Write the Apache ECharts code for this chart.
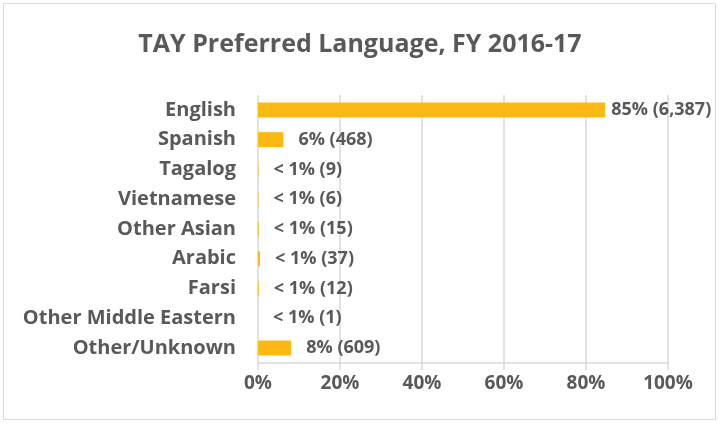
<!DOCTYPE html>
<html>
<head>
<meta charset="utf-8">
<script src="https://cdn.jsdelivr.net/npm/echarts@6/dist/echarts.min.js"></script>
<style>
  html, body { margin: 0; padding: 0; background: #fff; }
  #chart { width: 720px; height: 424px; }
</style>
</head>
<body>
<div id="chart"></div>
<script>
// categories, top to bottom
const languages = ['English', 'Spanish', 'Tagalog', 'Vietnamese', 'Other Asian', 'Arabic', 'Farsi', 'Other Middle Eastern', 'Other/Unknown'];
// share of TAY (percent) and head counts
const shares = [84.7, 6.2, 0.1, 0.1, 0.2, 0.5, 0.2, 0.01, 8.1];
const counts = [6387, 468, 9, 6, 15, 37, 12, 1, 609];
const shareLabels = ['85%', '6%', '< 1%', '< 1%', '< 1%', '< 1%', '< 1%', '< 1%', '8%'];
const xTicks = [0, 20, 40, 60, 80, 100];

const textColor = '#595959';
const fontFamily = '"Open Sans", Lato, sans-serif';

// the long English label gets pulled in so it stays inside the frame
const barData = shares.map((v, i) => i === 0 ? { value: v, label: { distance: 6 } } : v);

const chart = echarts.init(document.getElementById('chart'));

chart.setOption({
    animation: false,
    title: {
        text: 'TAY Preferred Language, FY 2016-17',
        left: 'center',
        top: 27,
        textStyle: { color: textColor, fontFamily: fontFamily, fontWeight: 'bold', fontSize: 25 }
    },
    graphic: [{
        type: 'rect',
        shape: { x: 3.5, y: 3.5, width: 712, height: 416 },
        style: { fill: 'none', stroke: '#d9d9d9', lineWidth: 1 },
        silent: true
    }],
    grid: { left: 258, right: 52, top: 95, bottom: 61 },
    xAxis: {
        type: 'value',
        min: xTicks[0],
        max: xTicks[xTicks.length - 1],
        interval: 20,
        axisLine: { show: true, lineStyle: { color: '#d9d9d9', width: 1.5 } },
        axisTick: { show: true, length: 7, lineStyle: { color: '#d9d9d9', width: 1.5 } },
        splitLine: { show: true, lineStyle: { color: '#d9d9d9', width: 1.5 } },
        axisLabel: {
            margin: 11,
            color: textColor,
            fontFamily: fontFamily,
            fontWeight: 'bold',
            fontSize: 19,
            formatter: v => v + '%'
        }
    },
    yAxis: {
        type: 'category',
        data: languages,
        inverse: true,
        axisLine: { show: false },
        axisTick: { show: false },
        axisLabel: {
            margin: 22,
            color: textColor,
            fontFamily: fontFamily,
            fontWeight: 'bold',
            fontSize: 20
        }
    },
    series: [{
        type: 'bar',
        data: barData,
        barWidth: 15,
        itemStyle: { color: '#FDB913' },
        label: {
            show: true,
            position: 'right',
            distance: 15,
            color: textColor,
            fontFamily: fontFamily,
            fontWeight: 'bold',
            fontSize: 18,
            formatter: p => shareLabels[p.dataIndex] + ' (' + counts[p.dataIndex].toLocaleString('en-US') + ')'
        }
    }]
});
</script>
</body>
</html>
